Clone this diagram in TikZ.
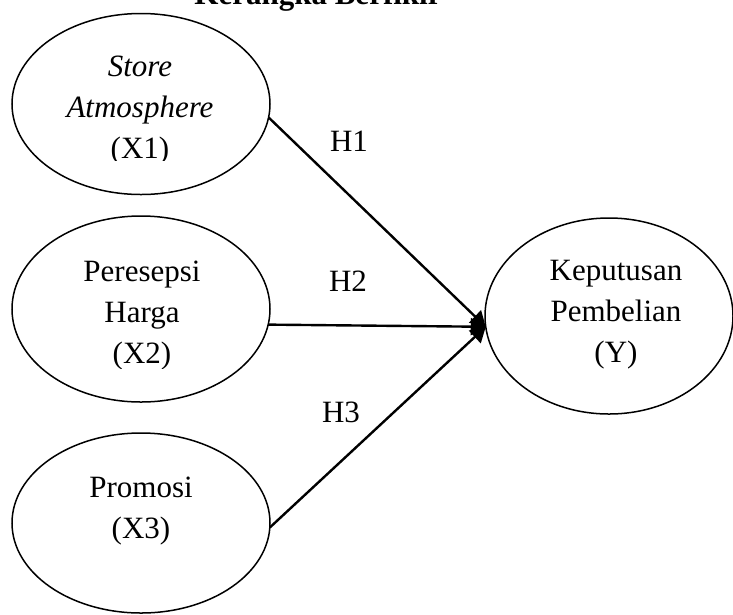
\documentclass[tikz,border=0pt]{standalone}
\usepackage{fontspec}
\setmainfont{Liberation Serif}
\usetikzlibrary{arrows.meta,shapes.geometric}
\tikzset{
  ell/.style={draw=black, line width=1.5pt, ellipse, inner sep=0pt, outer sep=0pt},
  lbl/.style={align=center, inner sep=0pt, font=\fontsize{31}{41}\selectfont},
  conn/.style={line width=2.4pt, -{Triangle[length=15pt,width=17pt]}},
}
\begin{document}
\begin{tikzpicture}[x=1pt,y=-1pt]
\useasboundingbox (0,0) rectangle (733,614);
% title (cropped at the top, as in the source)
\node[anchor=base, inner sep=0pt, font=\fontsize{31}{41}\selectfont\bfseries] (title) at (318,4) {Kerangka Berfikir};
% ellipses
\node[ell, minimum width=258pt, minimum height=181pt] (x1) at (141,104) {};
\node[ell, minimum width=258pt, minimum height=186pt] (x2) at (141,309) {};
\node[ell, minimum width=258pt, minimum height=180pt] (x3) at (141,523) {};
\node[ell, minimum width=248pt, minimum height=196pt] (y) at (609,316) {};
% texts
\begin{scope}
\clip (0,0) rectangle (300,160);
\node[lbl] (t1) at (140,110.5) {\itshape Store\\\itshape Atmosphere\\(X1)};
\end{scope}
\begin{scope}
\clip (0,200) rectangle (300,368);
\node[lbl] (t2) at (142,315.5) {Peresepsi\\Harga\\(X2)};
\end{scope}
\node[lbl] (t3) at (141,511.5) {Promosi\\(X3)};
\node[lbl] (ty) at (616,315) {Keputusan\\Pembelian\\(Y)};
% connectors
\coordinate (tip) at (y.185);
\draw[conn] (x1.-6) -- (tip);
\draw[conn] (x2.-7) -- (tip);
\draw[conn] (x3.-2) -- (tip);
% hypothesis labels
\node[lbl] (h1) at (349,141) {H1};
\node[lbl] (h2) at (348,281) {H2};
\node[lbl] (h3) at (341,412) {H3};
\end{tikzpicture}
\end{document}
